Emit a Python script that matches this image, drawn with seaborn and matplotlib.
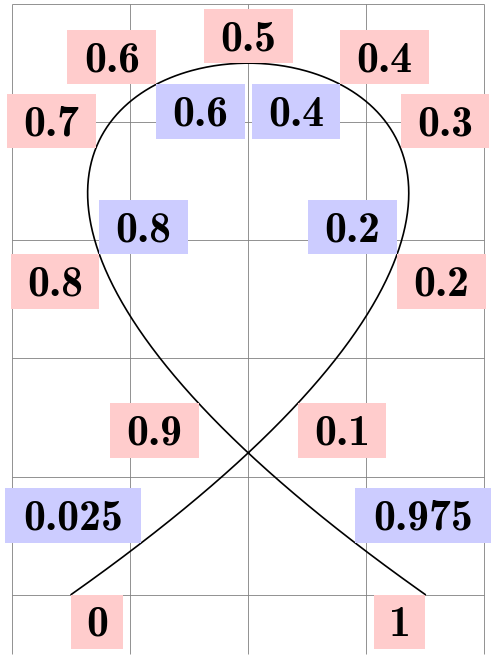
import numpy as np
import matplotlib
matplotlib.use("Agg")
import matplotlib.pyplot as plt
from matplotlib.bezier import BezierSegment
from matplotlib.patches import Rectangle
import pandas as pd
import seaborn as sns

# cubic curve control points
ctrl_x = [-1.5, 7.0, -7.0, 1.5]
ctrl_y = [0.0, 6.0, 6.0, 0.0]

# labels on the right side of the path
red_pos = [0, 0.1, 0.2, 0.3, 0.4, 0.5, 0.6, 0.7, 0.8, 0.9, 1]
red_labels = ["0", "0.1", "0.2", "0.3", "0.4", "0.5", "0.6", "0.7", "0.8", "0.9", "1"]
red_anchor = ["north west", "north west", "north west", "south west", "south west", "south",
              "south east", "south east", "north east", "north east", "north east"]

# labels on the left side of the path
blue_pos = [0.025, 0.2, 0.4, 0.6, 0.8, 0.975]
blue_labels = ["0.025", "0.2", "0.4", "0.6", "0.8", "0.975"]
blue_anchor = ["south east", "south east", "north east", "north west", "south west", "south west"]

grid_x = [-2, -1, 0, 1, 2]
grid_y = [0, 1, 2, 3, 4, 5]

EM = 0.3515  # 10pt in cm
PAD = 0.333 * EM
DIGIT_H = 0.644 * EM
FONT = "cmb10"
FS = 31.5


def text_width(s):
    return sum(0.575 if c.isdigit() else 0.319 for c in s) * EM


def put_label(ax, seg, t, s, anchor, fill):
    px, py = seg.point_at_t(t)
    w = text_width(s) + 2 * PAD
    h = DIGIT_H + 2 * PAD
    if "west" in anchor:
        left = px
    elif "east" in anchor:
        left = px - w
    else:
        left = px - w / 2
    if "north" in anchor:
        bottom = py - h
    else:
        bottom = py
    ax.add_patch(Rectangle((left, bottom), w, h, facecolor=fill, edgecolor="none", zorder=3))
    ax.text(left + w / 2, bottom + PAD * 0.95, s, ha="center", va="baseline",
            family=FONT, fontsize=FS, color="black", zorder=4)


sns.set_style("white")
fig = plt.figure(figsize=(4.97, 6.59), dpi=100)
ax = fig.add_axes([0, 0, 1, 1])

ax.vlines(grid_x, -0.5, 5, color="#808080", lw=0.6, zorder=1)
ax.hlines(grid_y, -2, 2, color="#808080", lw=0.6, zorder=1)

seg = BezierSegment(np.column_stack([ctrl_x, ctrl_y]))
pts = seg(np.linspace(0, 1, 500))
curve = pd.DataFrame({"x": pts[:, 0], "y": pts[:, 1]})
sns.lineplot(data=curve, x="x", y="y", sort=False, estimator=None,
             color="black", lw=1.2, ax=ax, zorder=2)

for t, s, a in zip(red_pos, red_labels, red_anchor):
    put_label(ax, seg, t, s, a, "#ffcccc")
for t, s, a in zip(blue_pos, blue_labels, blue_anchor):
    put_label(ax, seg, t, s, a, "#ccccff")

sc = 118.1
ax.set_xlim(-248.2 / sc, (497 - 248.2) / sc)
ax.set_ylim(-(659 - 594.6) / sc, 594.6 / sc)
ax.axis("off")

fig.savefig("out.png", dpi=100)
plt.close(fig)
